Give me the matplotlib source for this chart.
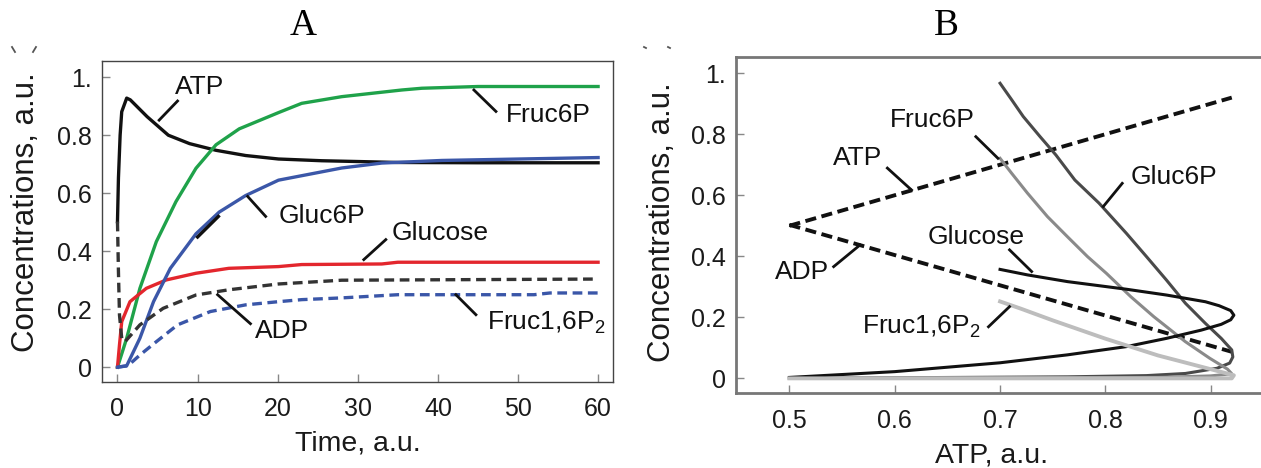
import matplotlib
matplotlib.use("Agg")
import matplotlib.pyplot as plt
from matplotlib.lines import Line2D

plt.rcParams['font.family'] = ['Liberation Sans', 'DejaVu Sans']
plt.rcParams['mathtext.default'] = 'regular'
plt.rcParams['lines.scale_dashes'] = False

# ---------------- Panel A data (time courses) ----------------
t_atp = [0, 0.12, 0.33, 0.53, 1.15, 1.6, 3.7, 6.35, 9.0, 12.3, 16.0, 20.1, 25.5, 30.5, 35.0, 45.0, 60.0]
atp = [0.502, 0.652, 0.80, 0.881, 0.928, 0.922, 0.864, 0.80, 0.771, 0.748, 0.73, 0.718, 0.712, 0.709, 0.706, 0.705, 0.705]

t_fruc6p = [0, 1.15, 2.8, 4.85, 7.3, 9.8, 12.3, 15.2, 20.1, 23, 28, 35.5, 38, 45, 60]
fruc6p = [0, 0.10, 0.272, 0.433, 0.571, 0.686, 0.767, 0.822, 0.878, 0.91, 0.933, 0.956, 0.962, 0.968, 0.968]

t_gluc6p = [0, 1.15, 2.8, 4.5, 6.6, 9.8, 12.7, 16, 20.1, 28, 33, 40.5, 60]
gluc6p = [0, 0.005, 0.10, 0.226, 0.341, 0.46, 0.535, 0.592, 0.645, 0.687, 0.704, 0.713, 0.723]

t_glucose = [0, 0.25, 0.53, 1.56, 3.6, 6.1, 9.8, 13.9, 20.1, 23, 33, 35, 60]
glucose = [0, 0.077, 0.157, 0.226, 0.272, 0.301, 0.324, 0.341, 0.347, 0.354, 0.356, 0.362, 0.362]

t_adp = [0, 0.12, 0.25, 0.53, 0.94, 2.8, 5.7, 9.8, 13.9, 20.1, 28, 60]
adp = [0.502, 0.33, 0.18, 0.10, 0.088, 0.146, 0.203, 0.249, 0.267, 0.287, 0.30, 0.304]

t_fruc16p2 = [0, 1.3, 2.8, 4.85, 7.5, 11.6, 16, 20.1, 23, 28, 35, 52, 54, 60]
fruc16p2 = [0, 0.005, 0.042, 0.088, 0.146, 0.192, 0.215, 0.226, 0.233, 0.239, 0.25, 0.25, 0.256, 0.256]

# labels panel A: (text, text_x, text_y, leader x0, y0, x1, y1)
labels_a = [
    ("ATP", 10.25, 0.968, 7.5, 0.918, 5.2, 0.852),
    ("Fruc6P", 53.75, 0.870, 44.5, 0.956, 47.25, 0.882),
    ("Gluc6P", 25.5, 0.52, 16.25, 0.589, 18.5, 0.52),
    ("Glucose", 40.25, 0.463, 33.5, 0.44, 30.75, 0.371),
    ("ADP", 20.5, 0.124, 16.6, 0.15, 12.5, 0.25),
    ("Fruc1,6P$_2$", 53.5, 0.153, 44.75, 0.181, 42.25, 0.25),
]
extra_seg_a = ([10.0, 12.6], [0.449, 0.52])

# ---------------- Panel B data (phase plot vs ATP) ----------------
b_atp_x = [0.5, 0.92]
b_atp_y = [0.5, 0.92]
b_adp_x = [0.5, 0.92]
b_adp_y = [0.503, 0.087]
b_glucose_x = [0.5, 0.6, 0.7, 0.764, 0.82, 0.858, 0.891, 0.910, 0.919, 0.922, 0.919, 0.908, 0.895, 0.858, 0.82, 0.764, 0.726, 0.7]
b_glucose_y = [0.003, 0.022, 0.051, 0.077, 0.104, 0.131, 0.158, 0.177, 0.192, 0.207, 0.222, 0.238, 0.251, 0.273, 0.292, 0.317, 0.339, 0.357]
b_fruc16_x = [0.5, 0.92, 0.922, 0.90, 0.85, 0.80, 0.75, 0.72, 0.70]
b_fruc16_y = [0.0, 0.0, 0.01, 0.03, 0.075, 0.13, 0.19, 0.228, 0.252]
b_fruc6_x = [0.5, 0.85, 0.90, 0.92, 0.916, 0.899, 0.876, 0.846, 0.824, 0.801, 0.783, 0.764, 0.745, 0.726, 0.711, 0.70]
b_fruc6_y = [0.0, 0.003, 0.008, 0.015, 0.03, 0.066, 0.12, 0.202, 0.268, 0.344, 0.399, 0.464, 0.53, 0.607, 0.672, 0.721]
b_gluc6_x = [0.5, 0.764, 0.839, 0.876, 0.906, 0.918, 0.921, 0.92, 0.91, 0.895, 0.876, 0.858, 0.839, 0.82, 0.794, 0.771, 0.753, 0.738, 0.722, 0.711, 0.70]
b_gluc6_y = [0.0, 0.005, 0.009, 0.016, 0.033, 0.05, 0.07, 0.093, 0.131, 0.18, 0.246, 0.322, 0.399, 0.475, 0.574, 0.65, 0.732, 0.792, 0.858, 0.913, 0.967]

labels_b = [
    ("Fruc6P", 0.636, 0.847, 0.677, 0.792, 0.698, 0.721),
    ("ATP", 0.565, 0.721, 0.593, 0.689, 0.616, 0.617),
    ("Gluc6P", 0.865, 0.661, 0.816, 0.639, 0.798, 0.563),
    ("Glucose", 0.677, 0.464, 0.709, 0.421, 0.73, 0.35),
    ("ADP", 0.512, 0.35, 0.542, 0.366, 0.567, 0.437),
    ("Fruc1,6P$_2$", 0.625, 0.169, 0.689, 0.169, 0.709, 0.235),
]

a_xticks = [0, 10, 20, 30, 40, 50, 60]
y_ticks = [0, 0.2, 0.4, 0.6, 0.8, 1.0]
y_ticklabels = ["0", "0.2", "0.4", "0.6", "0.8", "1."]
b_xticks = [0.5, 0.6, 0.7, 0.8, 0.9]
b_xticklabels = ["0.5", "0.6", "0.7", "0.8", "0.9"]

W, H = 1261, 468
fig = plt.figure(figsize=(W / 100, H / 100), dpi=100)

def px_axes(l, t, r, b):
    return [l / W, 1 - b / H, (r - l) / W, (b - t) / H]

axA = fig.add_axes(px_axes(101.7, 60.7, 613.3, 381.7))
axB = fig.add_axes(px_axes(735.7, 56.7, 1262, 393.3))

lwA = 2.4
axA.plot(t_atp, atp, color='#111111', lw=lwA, solid_joinstyle='round')
axA.plot(t_fruc6p, fruc6p, color='#1fa24a', lw=lwA)
axA.plot(t_glucose, glucose, color='#e3262d', lw=lwA)
axA.plot(t_gluc6p, gluc6p, color='#3b57a8', lw=lwA)
axA.plot(t_adp, adp, color='#333333', lw=lwA, dashes=[7, 4])
axA.plot(t_fruc16p2, fruc16p2, color='#3a56a8', lw=lwA, dashes=[7, 4])
for txt, tx, ty, x0, y0, x1, y1 in labels_a:
    axA.text(tx, ty, txt, fontsize=19, ha='center', va='center', color='#111111')
    axA.plot([x0, x1], [y0, y1], color='#111111', lw=2.0)
axA.plot(extra_seg_a[0], extra_seg_a[1], color='#111111', lw=2.4)

axA.set_xlim(-1.97, 61.9)
axA.set_ylim(-0.05, 1.057)
axA.set_xticks(a_xticks)
axA.set_xticklabels([str(v) for v in a_xticks])
axA.set_yticks(y_ticks)
axA.set_yticklabels(y_ticklabels)

lwB = 2.2
axB.plot(b_atp_x, b_atp_y, color='#111111', lw=2.8, dashes=[8, 4])
axB.plot(b_adp_x, b_adp_y, color='#111111', lw=2.8, dashes=[8, 4])
axB.plot(b_gluc6_x, b_gluc6_y, color='#4a4a4a', lw=lwB, solid_joinstyle='round')
axB.plot(b_fruc6_x, b_fruc6_y, color='#8a8a8a', lw=lwB, solid_joinstyle='round')
axB.plot(b_glucose_x, b_glucose_y, color='#111111', lw=lwB, solid_joinstyle='round')
axB.plot(b_fruc16_x, b_fruc16_y, color='#bdbdbd', lw=2.8, solid_joinstyle='round')
for txt, tx, ty, x0, y0, x1, y1 in labels_b:
    axB.text(tx, ty, txt, fontsize=19, ha='center', va='center', color='#111111')
    axB.plot([x0, x1], [y0, y1], color='#111111', lw=2.0)

axB.set_xlim(0.449, 0.9487)
axB.set_ylim(-0.049, 1.054)
axB.set_xticks(b_xticks)
axB.set_xticklabels(b_xticklabels)
axB.set_yticks(y_ticks)
axB.set_yticklabels(y_ticklabels)

for ax, scol, slw in ((axA, '#444444', 1.0), (axB, '#777777', 2.0)):
    for s in ax.spines.values():
        s.set_color(scol)
        s.set_linewidth(slw)
    ax.tick_params(direction='in', length=5.5, width=1, color='#888888',
                   labelsize=18, labelcolor='#1a1a1a')
    ax.tick_params(axis='y', pad=7)
    ax.tick_params(axis='x', pad=11)
axB.spines['right'].set_visible(False)

# axis labels
fig.text(358.3 / W, 1 - 450 / H, "Time, a.u.", fontsize=20.5, ha='center', va='baseline', color='#1a1a1a')
fig.text(26.5 / W, 1 - 211.7 / H, "Concentrations, a.u.", fontsize=22.5, rotation=90,
         ha='center', va='center', color='#1a1a1a')
fig.text(992 / W, 1 - 462 / H, "ATP, a.u.", fontsize=20.5, ha='center', va='baseline', color='#1a1a1a')
fig.text(662 / W, 1 - 222.3 / H, "Concentrations, a.u.", fontsize=22.5, rotation=90,
         ha='center', va='center', color='#1a1a1a')

# panel titles
fig.text(303 / W, 1 - 26 / H, "A", fontsize=27, ha='center', va='center',
         family=['Liberation Serif', 'DejaVu Serif'])
fig.text(946.7 / W, 1 - 26 / H, "B", fontsize=27, ha='center', va='center',
         family=['Liberation Serif', 'DejaVu Serif'])

# small remnant strokes of the original (cropped) panel tags
remnants = [((12, 15), (47, 52)), ((36, 33), (47, 52)),
            ((644, 646), (47, 48)), ((668, 670), (47, 48))]
for xs, ys in remnants:
    fig.add_artist(Line2D([x / W for x in xs], [1 - y / H for y in ys],
                          transform=fig.transFigure, color='#555555', lw=1.3))

fig.savefig("out.png", dpi=100)
